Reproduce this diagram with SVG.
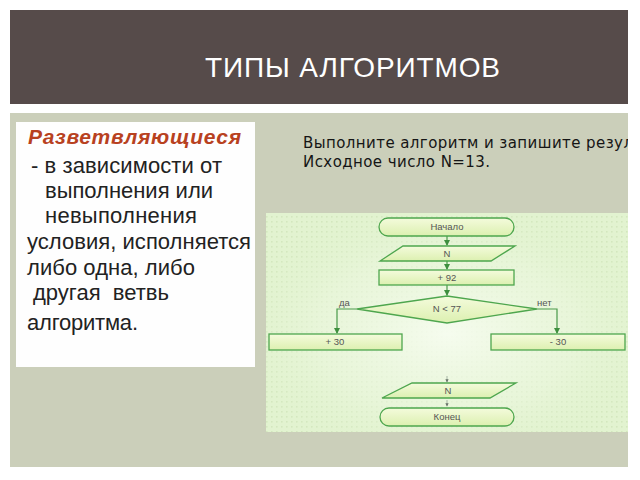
<svg xmlns="http://www.w3.org/2000/svg" width="640" height="480" viewBox="0 0 640 480">
<defs>
<style>
.body{font-family:"Liberation Sans",Arial,sans-serif;font-size:22px;fill:#222}
.red{font-family:"Liberation Sans",Arial,sans-serif;font-size:21px;font-weight:bold;font-style:italic;fill:#b8411f}
.task{font-family:"DejaVu Sans",Verdana,sans-serif;font-size:15px;fill:#151515}
.shape{fill:url(#shapeFill);stroke:#4ea64e;stroke-width:1.3}
.ft{font-family:"Liberation Sans",Arial,sans-serif;font-size:9.5px;fill:#555;text-anchor:middle}
.lbl{font-family:"Liberation Sans",Arial,sans-serif;font-size:9.5px;fill:#555}
.conn{fill:none;stroke:#4a9a4a;stroke-width:1.2}
.conn2{fill:none;stroke:#9aaa9a;stroke-width:0.8}
</style>
<linearGradient id="shapeFill" x1="0" y1="0" x2="0" y2="1">
<stop offset="0" stop-color="#f4fbdc"/>
<stop offset="1" stop-color="#dcf0b0"/>
</linearGradient>
<radialGradient id="glow" cx="0.5" cy="0.55" r="0.6">
<stop offset="0" stop-color="#f8fdf2" stop-opacity="0.9"/>
<stop offset="0.6" stop-color="#eef8e2" stop-opacity="0.5"/>
<stop offset="1" stop-color="#e0f2cc" stop-opacity="0"/>
</radialGradient>
<pattern id="dots" width="5" height="5" patternUnits="userSpaceOnUse">
<rect x="1" y="1" width="1.6" height="1.6" fill="#c6deb0"/>
</pattern>
<marker id="arr" viewBox="0 0 6 6" refX="5" refY="3" markerWidth="5" markerHeight="5" orient="auto">
<path d="M0,0 L6,3 L0,6 z" fill="#3f8f3f"/>
</marker>
<marker id="arrg" viewBox="0 0 6 6" refX="5" refY="3" markerWidth="4" markerHeight="4" orient="auto">
<path d="M0,0 L6,3 L0,6 z" fill="#667066"/>
</marker>
<clipPath id="panelClip"><rect x="10" y="113" width="618" height="354"/></clipPath>
</defs>

<rect x="0" y="0" width="640" height="480" fill="#ffffff"/>

<g id="title">
<rect x="10" y="10" width="618" height="94" fill="#564b4a"/>
<text x="205" y="77" font-family="'Liberation Sans',Arial,sans-serif" font-size="28" fill="#ffffff" textLength="295" lengthAdjust="spacing">ТИПЫ АЛГОРИТМОВ</text>
</g>

<g id="panel">
<rect x="10" y="113" width="618" height="354" fill="#cbcfba"/>
</g>

<g id="definition">
<rect x="16" y="122" width="239" height="245" fill="#fefefe"/>
<text class="red" x="28" y="144" textLength="213" lengthAdjust="spacing">Разветвляющиеся</text>
<text class="body" x="31" y="173" textLength="191" lengthAdjust="spacing">- в зависимости от</text>
<text class="body" x="45" y="198" textLength="168" lengthAdjust="spacing">выполнения или</text>
<text class="body" x="45" y="223" textLength="152" lengthAdjust="spacing">невыполнения</text>
<text class="body" x="27" y="249" textLength="224" lengthAdjust="spacing">условия, исполняется</text>
<text class="body" x="27" y="275" textLength="168" lengthAdjust="spacing">либо одна, либо</text>
<text class="body" x="33" y="300" textLength="136" lengthAdjust="spacing" xml:space="preserve">другая  ветвь</text>
<text class="body" x="27" y="330" textLength="111" lengthAdjust="spacing">алгоритма.</text>
</g>

<g id="task" clip-path="url(#panelClip)">
<text class="task" x="303" y="148" textLength="330" lengthAdjust="spacing">Выполните алгоритм и запишите резул</text>
<text class="task" x="303" y="167" textLength="187" lengthAdjust="spacing">Исходное число N=13.</text>
</g>

<g id="flowchart-bg">
<rect x="266" y="213" width="362" height="219" fill="#e2f3d0"/>
<rect x="266" y="213" width="362" height="219" fill="url(#dots)" opacity="0.55"/>
<rect x="266" y="213" width="362" height="219" fill="url(#glow)"/>
</g>

<g id="connectors">
<line class="conn" x1="447" y1="236" x2="447" y2="245" marker-end="url(#arr)"/>
<line class="conn" x1="447" y1="261" x2="447" y2="269" marker-end="url(#arr)"/>
<line class="conn" x1="447" y1="285" x2="447" y2="295" marker-end="url(#arr)"/>
<polyline class="conn" points="357,309 337,309 337,333" marker-end="url(#arr)"/>
<polyline class="conn" points="537,309 557,309 557,333" marker-end="url(#arr)"/>
<line class="conn2" x1="447" y1="376" x2="447" y2="382" marker-end="url(#arrg)"/>
<line class="conn2" x1="447" y1="400" x2="447" y2="406" marker-end="url(#arrg)"/>
</g>

<g id="start">
<rect class="shape" x="379" y="218" width="135" height="18" rx="9" ry="9"/>
<text class="ft" x="447" y="230">Начало</text>
</g>

<g id="input">
<polygon class="shape" points="403,246 515,246 491,261 380,261"/>
<text class="ft" x="447" y="257">N</text>
</g>

<g id="add92">
<rect class="shape" x="379" y="270" width="135" height="15"/>
<text class="ft" x="447" y="281">+ 92</text>
</g>

<g id="condition">
<polygon class="shape" points="447,296 537,309 447,323 357,309"/>
<text class="ft" x="447" y="312">N &lt; 77</text>
<text class="lbl" x="339" y="306">да</text>
<text class="lbl" x="537" y="306">нет</text>
</g>

<g id="plus30">
<rect class="shape" x="269" y="334" width="133" height="16"/>
<text class="ft" x="335" y="345">+ 30</text>
</g>

<g id="minus30">
<rect class="shape" x="491" y="334" width="134" height="16"/>
<text class="ft" x="558" y="345">- 30</text>
</g>

<g id="output">
<polygon class="shape" points="412,383 516,383 490,398 382,398"/>
<text class="ft" x="448" y="394">N</text>
</g>

<g id="end">
<rect class="shape" x="380" y="408" width="134" height="18" rx="9" ry="9"/>
<text class="ft" x="447" y="420">Конец</text>
</g>
</svg>
